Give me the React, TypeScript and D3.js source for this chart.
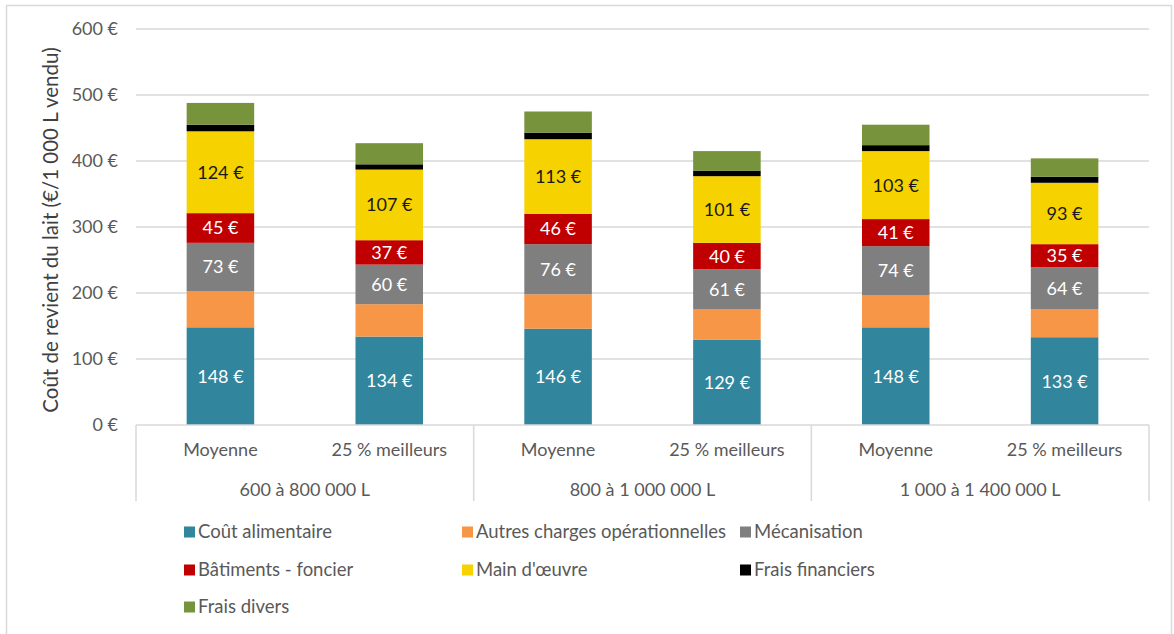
import React from "react";
import * as d3 from "d3";

const groups = ["600 à 800 000 L", "800 à 1 000 000 L", "1 000 à 1 400 000 L"];
const subCats = ["Moyenne", "25 % meilleurs"];
const seriesNames = [
  "Coût alimentaire",
  "Autres charges opérationnelles",
  "Mécanisation",
  "Bâtiments - foncier",
  "Main d'œuvre",
  "Frais financiers",
  "Frais divers",
];
const seriesColors = ["#31859C", "#F79646", "#7F7F7F", "#C00000", "#F5D200", "#000000", "#77933C"];
const labelColors = ["#FFFFFF", null, "#FFFFFF", "#FFFFFF", "#1a1a1a", null, null];

// order per bar: G1 Moy, G1 25%, G2 Moy, G2 25%, G3 Moy, G3 25%
const coutAlimentaire = [148, 134, 146, 129, 148, 133];
const autresCharges = [55, 49, 52, 46, 49, 42];
const mecanisation = [73, 60, 76, 61, 74, 64];
const batiments = [45, 37, 46, 40, 41, 35];
const mainOeuvre = [124, 107, 113, 101, 103, 93];
const fraisFinanciers = [10, 8, 10, 8, 9, 9];
const fraisDivers = [33, 32, 32, 30, 31, 28];

const seriesValues = [coutAlimentaire, autresCharges, mecanisation, batiments, mainOeuvre, fraisFinanciers, fraisDivers];
const yTicks = [0, 100, 200, 300, 400, 500, 600];

const W = 1174;
const H = 634;
const FONT = "Lato, 'Open Sans', sans-serif";

export default function App() {
  const left = 136, right = 1149, top = 29, bottom = 425;
  const bars = groups.flatMap((g) => subCats.map((s) => `${g}|${s}`));
  const x = d3.scaleBand().domain(bars).range([left, right]).paddingInner(0.6).paddingOuter(0.3);
  const xg = d3.scaleBand().domain(groups).range([left, right]);
  const y = d3.scaleLinear().domain([0, 600]).range([bottom, top]);

  const rows = bars.map((b, i) => {
    const r: any = { key: b };
    seriesNames.forEach((n, j) => (r[n] = seriesValues[j][i]));
    return r;
  });
  const stacked = d3.stack<any>().keys(seriesNames)(rows);

  const legendCols = [184, 462, 740];
  const legendRows = [532, 570, 607];

  return (
    <svg width={W} height={H} style={{ position: "absolute", left: 0, top: 0, background: "#fff" }} fontFamily={FONT}>
      <rect x={6.5} y={5.5} width={1165} height={640} fill="#fff" stroke="#D9D9D9" strokeWidth={1.5} />
      {yTicks.map((t) => (
        <g key={t}>
          {t > 0 && <line x1={left} x2={right} y1={y(t)} y2={y(t)} stroke="#D9D9D9" strokeWidth={1.5} />}
          <text x={118} y={y(t)} dy="0.35em" textAnchor="end" fontSize={18} fill="#595959">
            {`${t} €`}
          </text>
        </g>
      ))}
      <text
        transform={`translate(51, ${(top + bottom) / 2 + 3}) rotate(-90)`}
        textAnchor="middle"
        dy="0.35em"
        fontSize={20.5}
        fill="#404040"
      >
        Coût de revient du lait (€/1 000 L vendu)
      </text>
      {stacked.map((s, j) => (
        <g key={s.key}>
          {s.map((d, i) => (
            <g key={i}>
              <rect
                x={x(bars[i])!}
                width={x.bandwidth()}
                y={y(d[1])}
                height={y(d[0]) - y(d[1])}
                fill={seriesColors[j]}
              />
              {labelColors[j] && (
                <text
                  x={x(bars[i])! + x.bandwidth() / 2}
                  y={(y(d[0]) + y(d[1])) / 2}
                  dy="0.36em"
                  textAnchor="middle"
                  fontSize={18}
                  fill={labelColors[j]!}
                >
                  {`${seriesValues[j][i]} €`}
                </text>
              )}
            </g>
          ))}
        </g>
      ))}
      <line x1={left} x2={right} y1={bottom} y2={bottom} stroke="#D9D9D9" strokeWidth={1.5} />
      {[...groups.map((g) => xg(g)!), right].map((v, i) => (
        <line key={i} x1={v} x2={v} y1={bottom} y2={501} stroke="#D9D9D9" strokeWidth={1.5} />
      ))}
      {bars.map((b, i) => (
        <text key={b} x={x(b)! + x.bandwidth() / 2} y={450} dy="0.35em" textAnchor="middle" fontSize={18} fill="#595959">
          {subCats[i % 2]}
        </text>
      ))}
      {groups.map((g) => (
        <text key={g} x={xg(g)! + xg.bandwidth() / 2} y={490} dy="0.35em" textAnchor="middle" fontSize={18} fill="#595959">
          {g}
        </text>
      ))}
      {seriesNames.map((n, i) => {
        const cx = legendCols[i % 3];
        const cy = legendRows[Math.floor(i / 3)];
        return (
          <g key={n}>
            <rect x={cx} y={cy - 5.5} width={11} height={11} fill={seriesColors[i]} />
            <text x={cx + 14} y={cy} dy="0.35em" fontSize={18.5} fill="#595959">
              {n}
            </text>
          </g>
        );
      })}
    </svg>
  );
}
